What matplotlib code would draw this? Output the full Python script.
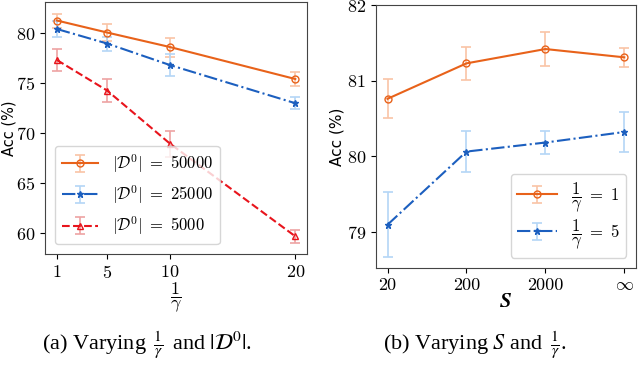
# Accuracy vs 1/gamma (left) and vs S (right), with error bars.

import matplotlib
matplotlib.use('Agg')
import matplotlib.pyplot as plt
import numpy as np

plt.rcParams['font.family'] = 'serif'
plt.rcParams['font.serif'] = ['cmr10']
plt.rcParams['mathtext.fontset'] = 'cm'
plt.rcParams['axes.formatter.use_mathtext'] = True

# ---- data, panel (a)
inv_gamma = [1, 5, 10, 20]
acc_50000 = [81.25, 80.05, 78.6, 75.4]
err_50000 = [0.7, 0.85, 0.95, 0.7]
acc_25000 = [80.4, 78.95, 76.8, 72.98]
err_25000 = [0.8, 0.7, 1.1, 0.6]
acc_5000 = [77.3, 74.25, 68.95, 59.67]
err_5000 = [1.1, 1.15, 1.3, 0.65]

# ---- data, panel (b)
s_labels = ['20', '200', '2000', r'$\infty$']
acc_g1 = [80.76, 81.23, 81.42, 81.31]
err_g1 = [0.26, 0.22, 0.22, 0.13]
acc_g5 = [79.09, 80.06, 80.18, 80.32]
err_g5 = [0.43, 0.27, 0.15, 0.27]

orange, orange_l = '#e8621a', '#f9c4a6'
blue, blue_l = '#1c5fbf', '#b4d6f6'
red, red_l = '#e8141c', '#eea3a3'

fig = plt.figure(figsize=(6.4, 3.66), dpi=100)
ax1 = fig.add_axes([0.0703, 0.306, 0.4097, 0.6885])
ax2 = fig.add_axes([0.587, 0.2686, 0.407, 0.7169])

kw = dict(capsize=3.5, elinewidth=1.2, capthick=1.2, lw=1.5, ms=5)

ax1.errorbar(inv_gamma, acc_50000, yerr=err_50000, color=orange, ecolor=orange_l,
             marker='o', mfc='none', ls='-', label=r'$|\mathcal{D}^0|\ =\ 50000$', **kw)
ax1.errorbar(inv_gamma, acc_25000, yerr=err_25000, color=blue, ecolor=blue_l,
             marker='*', ls='-.', label=r'$|\mathcal{D}^0|\ =\ 25000$', **kw)
ax1.errorbar(inv_gamma, acc_5000, yerr=err_5000, color=red, ecolor=red_l,
             marker='^', mfc='none', ls='--', label=r'$|\mathcal{D}^0|\ =\ 5000$', **kw)
ax1.set_xticks(inv_gamma)
ax1.set_yticks([60, 65, 70, 75, 80])
ax1.set_ylim(57.9, 83.1)
ax1.set_ylabel('Acc (%)', fontsize=10.5, family='DejaVu Sans')
ax1.yaxis.set_label_coords(-0.11, 0.5)
ax1.set_xlabel(r'$\mathbf{\dfrac{1}{\gamma}}$', fontsize=13, labelpad=0)
ax1.legend(loc='lower left', fontsize=12, borderaxespad=0.6, handlelength=2.2)

xs = np.arange(len(s_labels))
ax2.errorbar(xs, acc_g1, yerr=err_g1, color=orange, ecolor=orange_l,
             marker='o', mfc='none', ls='-', label=r'$\mathbf{\dfrac{1}{\gamma}\ =\ 1}$', **kw)
ax2.errorbar(xs, acc_g5, yerr=err_g5, color=blue, ecolor=blue_l,
             marker='*', ls='-.', label=r'$\mathbf{\dfrac{1}{\gamma}\ =\ 5}$', **kw)
ax2.set_xticks(xs)
ax2.set_xticklabels(s_labels)
ax2.set_yticks([79, 80, 81, 82])
ax2.set_ylim(78.52, 82.0)
ax2.set_ylabel('Acc (%)', fontsize=11, family='DejaVu Sans')
ax2.yaxis.set_label_coords(-0.118, 0.5)
ax2.set_xlabel(r'$\mathbfit{S}$', fontsize=15, labelpad=0)
ax2.legend(loc='lower right', fontsize=12, borderaxespad=0.6, handlelength=2.4,
           labelspacing=0.2)

for ax in (ax1, ax2):
    ax.tick_params(labelsize=13)
    for sp in ax.spines.values():
        sp.set_color('#444444')

fig.text(0.23, 0.047, r'(a) Varying $\,\frac{1}{\gamma}\,$ and $|\mathcal{D}^0|$.',
         ha='center', fontsize=16, family='Liberation Serif', math_fontfamily='stix')
fig.text(0.742, 0.047, r'(b) Varying $S$ and $\,\frac{1}{\gamma}$.',
         ha='center', fontsize=16, family='Liberation Serif', math_fontfamily='stix')

fig.savefig('out.png', dpi=100)
